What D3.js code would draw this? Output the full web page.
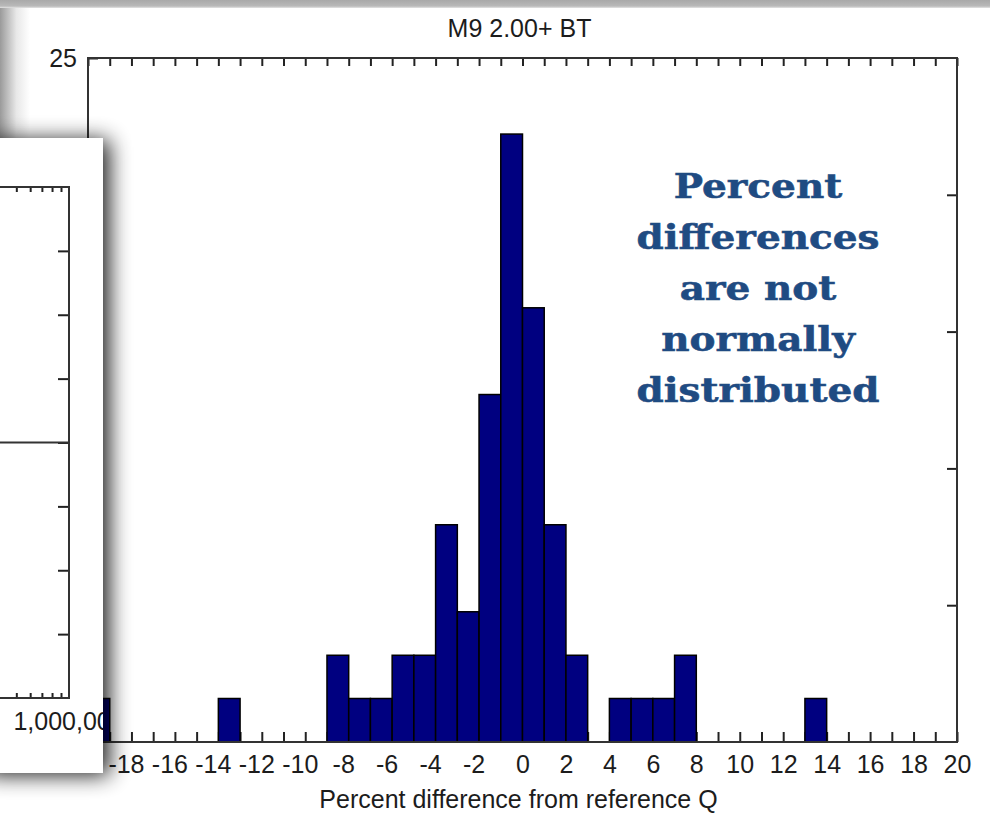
<!DOCTYPE html>
<html>
<head>
<meta charset="utf-8">
<script src="https://cdn.jsdelivr.net/npm/d3@7"></script>
<style>
  body { margin: 0; background: #fff; }
  svg { display: block; }
</style>
</head>
<body>
<svg id="chart" width="990" height="829"></svg>
<script>
// ---- Histogram data: left edge of each non-empty 1-point bin, share of sites (%) ----
const binStarts   = [-20, -14, -9, -8, -7, -6, -5, -4, -3, -2, -1, 0, 1, 2, 4, 5, 6, 7, 13];
const binPercents = [1.59, 1.59, 3.17, 1.59, 1.59, 3.17, 3.17, 7.94, 4.76, 12.70, 22.22, 15.87, 7.94, 3.17, 1.59, 1.59, 1.59, 3.17, 1.59];
const binWidth = 1;

const xDomain = [-20, 20];
const yDomain = [0, 25];
// labelled ticks left uncovered by the inset panel
const xTickLabels = [-18, -16, -14, -12, -10, -8, -6, -4, -2, 0, 2, 4, 6, 8, 10, 12, 14, 16, 18, 20];
const yTickValues = [0, 5, 10, 15, 20, 25];
const yTickLabels = [25];

const chartTitle = "M9 2.00+ BT";
const xAxisTitle = "Percent difference from reference Q";
const noteLines = ["Percent", "differences", "are not", "normally", "distributed"];

// ---- Inset panel (log flow axis) ----
const insetXDomain = [10000, 1000000];
const insetXLabels = [1000000];
const insetMinorTicks = [500000, 600000, 700000, 800000, 900000];
const insetYDomain = [-100, 100];
const insetYTicks = [-75, -50, -25, 0, 25, 50, 75];
const insetRefLine = [0];

const svg = d3.select("#chart");
const defs = svg.append("defs");

// page backdrop gradients
const topGrad = defs.append("linearGradient").attr("id", "topStrip")
  .attr("x1", 0).attr("y1", 0).attr("x2", 0).attr("y2", 1);
topGrad.append("stop").attr("offset", "0%").attr("stop-color", "#a9a9a9");
topGrad.append("stop").attr("offset", "75%").attr("stop-color", "#b9b9b9");
topGrad.append("stop").attr("offset", "100%").attr("stop-color", "#e4e4e4");

const leftGrad = defs.append("linearGradient").attr("id", "leftEdge")
  .attr("x1", 0).attr("y1", 0).attr("x2", 1).attr("y2", 0);
leftGrad.append("stop").attr("offset", "0%").attr("stop-color", "#9a9a9a");
leftGrad.append("stop").attr("offset", "18%").attr("stop-color", "#b4b4b4");
leftGrad.append("stop").attr("offset", "55%").attr("stop-color", "#e8e8e8");
leftGrad.append("stop").attr("offset", "100%").attr("stop-color", "#ffffff");

const shadow = defs.append("filter").attr("id", "panelShadow")
  .attr("filterUnits", "userSpaceOnUse")
  .attr("x", -60).attr("y", 90).attr("width", 230).attr("height", 740);
shadow.append("feGaussianBlur").attr("in", "SourceAlpha").attr("stdDeviation", 11).attr("result", "blur");
shadow.append("feOffset").attr("in", "blur").attr("dx", 6).attr("dy", 2).attr("result", "off");
shadow.append("feComponentTransfer").attr("in", "off").attr("result", "soft")
  .append("feFuncA").attr("type", "linear").attr("slope", 0.9);
const merge = shadow.append("feMerge");
merge.append("feMergeNode").attr("in", "soft");
merge.append("feMergeNode").attr("in", "SourceGraphic");

defs.append("clipPath").attr("id", "insetClip")
  .append("rect").attr("x", -20).attr("y", 138).attr("width", 123).attr("height", 635);

svg.append("rect").attr("width", 990).attr("height", 829).attr("fill", "#fff");
svg.append("rect").attr("x", 0).attr("y", 0).attr("width", 30).attr("height", 150).attr("fill", "url(#leftEdge)");
svg.append("rect").attr("x", 0).attr("y", 0).attr("width", 990).attr("height", 8).attr("fill", "url(#topStrip)");

// ---- Main histogram ----
const plot = { left: 88, right: 957, top: 58, bottom: 742 };
const x = d3.scaleLinear().domain(xDomain).range([plot.left, plot.right]);
const y = d3.scaleLinear().domain(yDomain).range([plot.bottom, plot.top]);
const axisFont = "'Liberation Sans', Arial, sans-serif";
const ink = "#1c1c1c";
const frameColor = "#333";

const unitTicks = d3.range(xDomain[0], xDomain[1] + 1);

const gBottom = svg.append("g").attr("transform", `translate(0,${plot.bottom})`)
  .call(d3.axisBottom(x).tickValues(unitTicks).tickSize(-10).tickPadding(13)
    .tickFormat(d => xTickLabels.includes(d) ? String(d) : ""));
const gTop = svg.append("g").attr("transform", `translate(0,${plot.top})`)
  .call(d3.axisTop(x).tickValues(unitTicks).tickSize(-8).tickFormat(""));
const gLeft = svg.append("g").attr("transform", `translate(${plot.left},0)`)
  .call(d3.axisLeft(y).tickValues(yTickValues).tickSize(-10).tickPadding(11)
    .tickFormat(d => yTickLabels.includes(d) ? String(d) : ""));
const gRight = svg.append("g").attr("transform", `translate(${plot.right},0)`)
  .call(d3.axisRight(y).tickValues(yTickValues.slice(1, -1)).tickSize(-10).tickFormat(""));

[gBottom, gTop, gLeft, gRight].forEach(g => {
  g.select(".domain").remove();
  g.selectAll(".tick line").attr("stroke", "#222").attr("stroke-width", 2);
  g.selectAll(".tick text").attr("fill", ink).style("font-family", axisFont).style("font-size", "25px");
});
// negative labels: keep the digits over the tick, minus hangs to the left
gBottom.selectAll(".tick text").attr("dx", d => d < 0 ? "-0.22em" : 0);

// bars
svg.append("g").selectAll("rect")
  .data(binStarts.map((s, i) => ({ start: s, pct: binPercents[i] })))
  .join("rect")
  .attr("x", d => x(d.start))
  .attr("width", d => x(d.start + binWidth) - x(d.start))
  .attr("y", d => y(d.pct))
  .attr("height", d => y(0) - y(d.pct))
  .attr("fill", "#000080")
  .attr("stroke", "#000")
  .attr("stroke-width", 1.5);

// plot frame
svg.append("rect")
  .attr("x", plot.left).attr("y", plot.top)
  .attr("width", plot.right - plot.left).attr("height", plot.bottom - plot.top)
  .attr("fill", "none").attr("stroke", frameColor).attr("stroke-width", 2);

svg.append("text").attr("x", (plot.left + plot.right) / 2 - 3).attr("y", 37)
  .attr("text-anchor", "middle").attr("fill", ink)
  .style("font-family", axisFont).style("font-size", "25px")
  .text(chartTitle);

svg.append("text").attr("x", (plot.left + plot.right) / 2 - 4).attr("y", 808)
  .attr("text-anchor", "middle").attr("fill", ink)
  .style("font-family", axisFont).style("font-size", "25px")
  .text(xAxisTitle);

// annotation
const noteCx = 758;
const note = svg.append("g");
const noteText = note.append("text")
  .attr("text-anchor", "middle").attr("fill", "#1f4b82")
  .style("font-family", "'DejaVu Serif', 'Liberation Serif', serif")
  .style("font-weight", "bold").style("font-size", "34px")
  .attr("stroke", "#1f4b82").attr("stroke-width", 0.6);
noteText.selectAll("tspan").data(noteLines).join("tspan")
  .attr("x", 0).attr("y", (d, i) => 198 + i * 51)
  .text(d => d);
const widest = d3.max(noteText.selectAll("tspan").nodes(), n => n.getComputedTextLength());
note.attr("transform", `translate(${noteCx},0) scale(${243 / widest},1)`);

// ---- Inset panel overlapping the left edge ----
svg.append("rect").attr("x", -20).attr("y", 138).attr("width", 123).attr("height", 635)
  .attr("fill", "#fff").attr("filter", "url(#panelShadow)");

const inset = svg.append("g").attr("clip-path", "url(#insetClip)");
const ip = { right: 69, top: 187, bottom: 698 };
const ix = d3.scaleLog().domain(insetXDomain).range([ip.right - 350, ip.right]);
const iy = d3.scaleLinear().domain(insetYDomain).range([ip.bottom, ip.top]);

const iTop = inset.append("g").attr("transform", `translate(0,${ip.top})`)
  .call(d3.axisTop(ix).tickValues(insetMinorTicks).tickSize(-5).tickFormat(""));
const iBottom = inset.append("g").attr("transform", `translate(0,${ip.bottom})`)
  .call(d3.axisBottom(ix).tickValues(insetMinorTicks).tickSize(-5).tickFormat(""));
const iRight = inset.append("g").attr("transform", `translate(${ip.right},0)`)
  .call(d3.axisRight(iy).tickValues(insetYTicks).tickSize(-11).tickFormat(""));
[iTop, iBottom, iRight].forEach(g => {
  g.select(".domain").remove();
  g.selectAll(".tick line").attr("stroke", "#222").attr("stroke-width", 2);
});

inset.selectAll("text.xlab").data(insetXLabels).join("text").attr("class", "xlab")
  .attr("x", d => ix(d)).attr("y", 730)
  .attr("text-anchor", "middle").attr("fill", ink)
  .style("font-family", axisFont).style("font-size", "25px")
  .text(d => d3.format(",")(d));

inset.selectAll("line.ref").data(insetRefLine).join("line").attr("class", "ref")
  .attr("x1", ix.range()[0]).attr("x2", ip.right)
  .attr("y1", d => iy(d)).attr("y2", d => iy(d))
  .attr("stroke", frameColor).attr("stroke-width", 2);

inset.append("path")
  .attr("d", `M${ix.range()[0]},${ip.top}H${ip.right}V${ip.bottom}H${ix.range()[0]}`)
  .attr("fill", "none").attr("stroke", frameColor).attr("stroke-width", 2);
</script>
</body>
</html>
